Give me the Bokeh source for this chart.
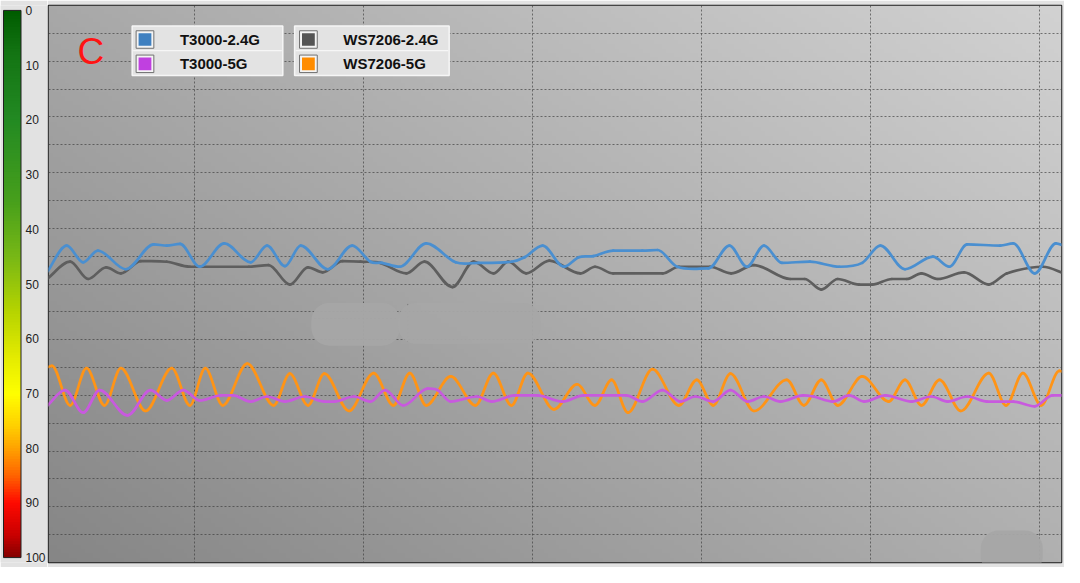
import numpy as np
from bokeh.plotting import figure
from bokeh.models import Range1d, FixedTicker, BoxAnnotation, Label, ColumnDataSource, Grid
from bokeh.layouts import row
from bokeh.embed import file_html
from bokeh.resources import INLINE
from bokeh.core.properties import value

# ---------------- data (time in s, signal value on the 0..100 scale) ----------------
series_names = ["T3000-2.4G", "T3000-5G", "WS7206-2.4G", "WS7206-5G"]
series_colors = ["#4a8fd0", "#c85ade", "#5e5e5e", "#ff9416"]
swatch_colors = ["#3f80c0", "#c040e0", "#555555", "#ff8c00"]

t3000_24_t = [1.3, 2.47, 3.44, 4.31, 5.96, 7.61, 8.39, 9.17, 10.33, 11.78, 13.34, 14.31, 15.37, 16.3,
              17.9, 19.35, 20.42, 21.1, 22.16, 23.72, 25.46, 26.82, 28.76, 29.54, 30.6, 31.87, 32.74,
              33.6, 34.78, 36.5, 37.4, 38.56, 40.4, 41.65, 42.68, 43.69, 44.75, 46.4, 48.15, 49.5,
              50.57, 52.03, 53.68, 54.65, 55.7, 57.66, 58.43, 59.7, 60.95, 61.5]
t3000_24_v = [47.9, 43.1, 46.1, 44.0, 47.35, 42.9, 43.1, 42.8, 46.9, 42.7, 46.1, 43.1, 46.8, 43.1,
              47.35, 43.1, 46.0, 46.2, 46.9, 42.7, 46.1, 46.2, 46.0, 45.2, 43.1, 46.9, 45.2,
              45.0, 44.0, 44.0, 43.9, 46.9, 47.2, 43.1, 46.9, 43.1, 46.2, 46.0, 46.9, 46.2,
              43.1, 47.35, 45.1, 46.9, 42.9, 43.1, 42.7, 48.1, 42.7, 43.2]

ws7206_24_t = [1.3, 2.67, 3.73, 4.8, 5.67, 6.84, 8.39, 9.75, 13.24, 14.4, 15.66, 16.73, 17.6, 18.77,
               19.84, 21.0, 22.55, 23.62, 25.27, 26.53, 27.7, 28.57, 29.63, 31.0, 32.84, 33.7, 34.78,
               37.7, 38.66, 40.5, 41.75, 43.1, 45.24, 46.1, 47.08, 48.05, 49.31, 50.09, 51.25, 52.13,
               53.0, 53.97, 55.52, 56.98, 58.04, 60.18, 61.5]
ws7206_24_v = [49.1, 46.0, 49.1, 47.0, 48.1, 45.9, 46.0, 46.9, 46.9, 46.6, 50.1, 47.0, 47.9, 45.9,
               46.0, 46.2, 48.1, 46.0, 50.55, 46.0, 48.1, 46.0, 48.1, 45.8, 48.1, 46.9, 48.1,
               48.1, 46.9, 46.9, 48.1, 46.6, 49.1, 49.1, 51.0, 49.1, 50.1, 50.1, 49.1, 49.1,
               48.1, 49.1, 47.9, 50.1, 48.1, 46.9, 48.2]

t3000_5_t = [1.3, 2.37, 3.44, 4.41, 6.06, 7.42, 8.39, 9.36, 10.33, 11.59, 12.3, 13.34, 14.31, 15.37,
             16.54, 17.7, 18.3, 19.45, 20.42, 21.29, 22.36, 23.81, 24.4, 25.17, 26.72, 27.6, 28.95,
             30.3, 31.77, 33.03, 35.55, 36.52, 37.69, 38.75, 39.63, 40.69, 41.71, 42.72, 43.69, 44.66,
             46.0, 46.6, 47.76, 48.73, 49.6, 50.87, 52.42, 53.58, 54.55, 55.72, 56.88, 58.43, 59.7,
             60.76, 61.5]
t3000_5_v = [71.9, 69.05, 73.1, 69.05, 73.6, 69.05, 70.9, 69.05, 70.9, 70.0, 70.0, 71.1, 70.2, 71.1,
             70.2, 71.1, 71.1, 70.2, 71.1, 69.05, 71.8, 68.8, 69.05, 71.1, 70.2, 71.1, 70.0,
             70.0, 71.1, 70.0, 70.0, 71.1, 69.05, 71.1, 70.2, 71.1, 69.05, 71.1, 70.2, 71.1,
             70.0, 70.2, 71.1, 70.0, 71.1, 70.0, 71.1, 70.2, 71.1, 70.2, 71.1, 71.1, 71.96,
             70.0, 70.0]

ws7206_5_t = [1.3, 1.6, 2.67, 3.64, 4.7, 5.67, 7.13, 8.68, 9.75, 10.66, 11.69, 13.14, 14.7, 15.66,
              16.73, 17.7, 19.16, 20.61, 21.78, 22.75, 23.72, 25.17, 26.63, 27.69, 28.76, 29.73,
              31.28, 32.64, 33.7, 34.68, 35.65, 37.1, 38.66, 39.72, 40.69, 41.71, 43.1, 45.04, 46.05,
              47.08, 48.05, 49.5, 51.06, 52.03, 53.0, 54.07, 55.33, 56.98, 58.0, 59.0, 60.08, 61.15, 61.5]
ws7206_5_v = [65.0, 64.7, 71.8, 65.1, 71.8, 65.1, 72.8, 65.1, 71.8, 65.1, 71.8, 64.3, 71.8, 66.1,
              71.8, 66.1, 72.8, 66.0, 71.8, 66.0, 71.8, 66.6, 71.8, 66.0, 71.8, 66.0,
              72.5, 68.0, 71.8, 67.2, 73.1, 65.3, 71.8, 67.2, 71.8, 66.1, 72.8, 67.2, 71.8,
              67.2, 71.8, 66.6, 71.1, 67.2, 71.8, 67.2, 72.8, 66.0, 71.8, 66.0, 71.8, 65.6, 65.8]

y_ticks = [0, 10, 20, 30, 40, 50, 60, 70, 80, 90, 100]
y_tick_labels = ["0", "10", "20", "30", "40", "50", "60", "70", "80", "90", "100"]
y_grid_ticks = list(range(0, 101, 5))
x_grid_ticks = [10, 20, 30, 40, 50, 60]

# ---------------- layout constants ----------------
T0, T1 = 1.39, 61.28
W, H = 1064, 567
LEFT_W = 47
MAIN_W = W - LEFT_W
PAD = 5
PX_PER_UNIT = (H - 2 * PAD) / 100.0
BG = "#e2e2e2"


def tx(px):
    # reference pixel x -> time
    return T0 + (px - 48) / (1077 - 48) * (T1 - T0)


def vy(py):
    # reference pixel y -> value
    return (py - 5) / 5.73


def hermite_segments(t, v):
    t = np.asarray(t, float)
    v = np.asarray(v, float)
    n = len(t)
    m = np.zeros(n)
    for i in range(n):
        if i == 0:
            m[i] = (v[1] - v[0]) / (t[1] - t[0])
        elif i == n - 1:
            m[i] = (v[-1] - v[-2]) / (t[-1] - t[-2])
        else:
            d0 = v[i] - v[i - 1]
            d1 = v[i + 1] - v[i]
            if d0 * d1 <= 0:
                m[i] = 0.0
            else:
                m[i] = (v[i + 1] - v[i - 1]) / (t[i + 1] - t[i - 1])
    dt = np.diff(t)
    x0, y0, x1, y1 = t[:-1], v[:-1], t[1:], v[1:]
    return ColumnDataSource(dict(
        x0=x0, y0=y0, x1=x1, y1=y1,
        cx0=x0 + dt / 3, cy0=y0 + m[:-1] * dt / 3,
        cx1=x1 - dt / 3, cy1=y1 - m[1:] * dt / 3,
    ))


def hex2rgb(h):
    h = h.lstrip("#")
    return np.array([int(h[i:i + 2], 16) for i in (0, 2, 4)], float)


# ---------------- left colour scale ----------------
lf = figure(width=LEFT_W, height=H, output_backend="svg", toolbar_location=None,
            x_range=Range1d(0, LEFT_W),
            y_range=Range1d(100 + PAD / PX_PER_UNIT, -PAD / PX_PER_UNIT),
            x_axis_location=None, y_axis_location=None, min_border=0,
            outline_line_color=None, background_fill_color=BG, border_fill_color=BG)
lf.center = [c for c in lf.center if not isinstance(c, Grid)]

stops_v = [0, 8, 20, 35, 45, 55, 63, 70, 76, 80, 85, 90, 96, 100]
stops_c = ["#005c00", "#147514", "#238a23", "#48a01c", "#78b816", "#b6d400", "#e2ea00",
           "#ffff00", "#ffcf00", "#ffa300", "#ff6400", "#ff0a00", "#c80000", "#820000"]
sc = np.array([hex2rgb(c) for c in stops_c])
cb_b = np.arange(0, 100, 0.5)
mid = cb_b + 0.25
cols = []
for mv in mid:
    r = np.interp(mv, stops_v, sc[:, 0])
    g = np.interp(mv, stops_v, sc[:, 1])
    b = np.interp(mv, stops_v, sc[:, 2])
    cols.append("#%02x%02x%02x" % (int(r), int(g), int(b)))
lf.quad(left=3, right=20.5, top=cb_b, bottom=np.minimum(cb_b + 0.7, 100), fill_color=cols, line_color=None)
lf.quad(left=3, right=20.5, top=0, bottom=100, fill_color=None, line_color="#202020", line_width=1)
lf.text(x=[25] * len(y_ticks), y=y_ticks, text=y_tick_labels, text_font=value("Liberation Sans"),
        text_font_size="12px", text_color="#222222", text_baseline="middle", text_align="left")

# ---------------- main chart ----------------
p = figure(width=MAIN_W, height=H, output_backend="svg", toolbar_location=None,
           x_range=Range1d(T0, T1), y_range=Range1d(100, 0),
           x_axis_location=None, y_axis_location=None,
           min_border_left=1, min_border_right=3, min_border_top=PAD, min_border_bottom=PAD,
           background_fill_color="#a8a8a8", border_fill_color=BG,
           outline_line_color="#1c1c1c", outline_line_width=1.5)
p.center = [c for c in p.center if not isinstance(c, Grid)]

# background gradient (lighter top-right, darker bottom-left)
nx, ny = 256, 128
xf = np.linspace(0, 1, nx)[None, :]
yf = np.linspace(0, 1, ny)[:, None]
gray = np.clip(168 + 42 * xf - 34 * yf, 0, 255).astype(np.uint8)
img = np.empty((ny, nx), dtype=np.uint32)
view = img.view(dtype=np.uint8).reshape((ny, nx, 4))
view[:, :, 0] = gray
view[:, :, 1] = gray
view[:, :, 2] = gray
view[:, :, 3] = 255
p.image_rgba(image=[img], x=T0, y=0, dw=T1 - T0, dh=100, level="image")

for dim, ticks in ((0, x_grid_ticks), (1, y_grid_ticks)):
    p.add_layout(Grid(dimension=dim, ticker=FixedTicker(ticks=ticks), grid_line_color="#3a3a3a",
                      grid_line_alpha=0.65, grid_line_dash="2 2", grid_line_width=1))

# watermark-like blurred blobs
for l, r, t, b in ((315, 405, 311, 355), (403, 548, 311, 353), (995, 1058, 545, 590)):
    p.add_layout(BoxAnnotation(left=tx(l), right=tx(r), top=vy(t), bottom=vy(b), fill_color="#a6a6a6",
                               fill_alpha=0.95, line_alpha=0, border_radius=18, level="underlay"))
p.segment(x0=[tx(413), tx(318)], x1=[tx(413), tx(402)], y0=[vy(312), vy(327)], y1=[vy(352), vy(327)],
          line_color="#4a4a4a", line_alpha=0.55, line_dash="2 2", line_width=1, level="underlay")

series = [
    (ws7206_24_t, ws7206_24_v, series_colors[2]),
    (t3000_24_t, t3000_24_v, series_colors[0]),
    (ws7206_5_t, ws7206_5_v, series_colors[3]),
    (t3000_5_t, t3000_5_v, series_colors[1]),
]
for ts, vs, col in series:
    src = hermite_segments(ts, vs)
    p.bezier(x0="x0", y0="y0", x1="x1", y1="y1", cx0="cx0", cy0="cy0", cx1="cx1", cy1="cy1",
             source=src, line_color=col, line_width=2.7, line_cap="round")

# legend (two boxes, two rows each)
for bl, br in ((133, 286), (298, 455)):
    p.quad(left=tx(bl), right=tx(br), top=vy(26), bottom=vy(77), fill_color="#e3e3e3",
           line_color="#f6f6f6", line_width=1.5)
    p.segment(x0=tx(bl + 1), x1=tx(br - 1), y0=vy(51.5), y1=vy(51.5), line_color="#f6f6f6", line_width=1.2)

sw_left = [137, 137, 303, 303]
sw_top = [31, 56, 31, 56]
txt_x = [181.5, 181.5, 347.5, 347.5]
txt_y = [40, 65, 40, 65]
p.quad(left=[tx(a) for a in sw_left], right=[tx(a + 18) for a in sw_left],
       top=[vy(a) for a in sw_top], bottom=[vy(a + 18) for a in sw_top],
       fill_color="#f4f4f4", line_color="#707070", line_width=1)
p.quad(left=[tx(a + 2.5) for a in sw_left], right=[tx(a + 15.5) for a in sw_left],
       top=[vy(a + 2.5) for a in sw_top], bottom=[vy(a + 15.5) for a in sw_top],
       fill_color=swatch_colors, line_color=None)
p.text(x=[tx(a) for a in txt_x], y=[vy(a) for a in txt_y], text=series_names,
       text_font=value("Liberation Sans"), text_font_style="bold", text_font_size="15px",
       text_color="#111111", text_baseline="middle", text_align="left")

p.add_layout(Label(x=tx(91), y=vy(52), text="C", text_color="#ff1414", text_font="Liberation Sans",
                   text_font_size="37px", text_align="center", text_baseline="middle"))

layout = row(lf, p)
open("out.html", "w").write(file_html(layout, INLINE))
